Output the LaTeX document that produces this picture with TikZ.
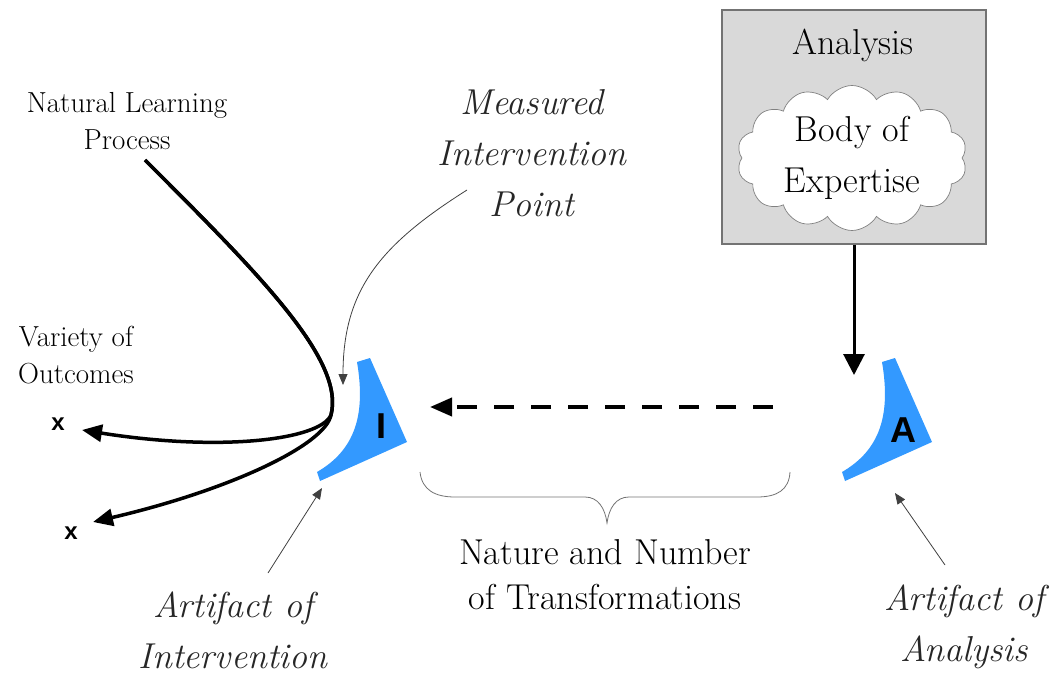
\documentclass[tikz,border=0pt]{standalone}
\usepackage{fontspec}
\setmainfont{Latin Modern Roman}
\newfontfamily\lmroman{Latin Modern Roman}
\newfontfamily\labelsans{Liberation Sans}
\usetikzlibrary{arrows.meta,shapes.symbols}
\definecolor{artblue}{RGB}{51,153,255}
\definecolor{boxgray}{RGB}{217,217,217}

\begin{document}
\begin{tikzpicture}[x=1pt,y=-1pt,
  plain/.style={font=\lmroman\fontsize{36}{45}\selectfont, align=center, inner sep=0pt},
  cloudtext/.style={font=\lmroman\fontsize{36}{51}\selectfont, align=center, inner sep=0pt},
  small/.style={font=\lmroman\fontsize{29}{37}\selectfont, align=center, inner sep=0pt},
  note/.style={font=\lmroman\itshape\fontsize{36}{51}\selectfont, align=center, inner sep=0pt, text=black!85},
  letter/.style={font=\labelsans\bfseries\fontsize{36}{36}\selectfont, inner sep=0pt},
  xmark/.style={font=\labelsans\bfseries\fontsize{24}{24}\selectfont, inner sep=0pt},
  flow/.style={line width=3.5pt, -{Triangle[length=20pt,width=17pt]}},
  pointer/.style={line width=0.8pt, draw=black!75, -{Triangle[length=11pt,width=9pt]}},
  bracestroke/.style={line width=0.8pt, draw=black!55},
  artifactshape/.pic={
    \fill[artblue] (357,362) -- (370,358) -- (407,442) -- (320,481) -- (317,472)
      .. controls (355,450) and (366,415) .. (357,362) -- cycle;
  },
  ]
\useasboundingbox (0,0) rectangle (1063,677);

% analysis box with its cloud
\node[draw=black!55, fill=boxgray, line width=1.5pt, minimum width=264pt,
      minimum height=234pt, inner sep=0pt] (abox) at (854,127) {};
\node[plain] (atitle) at (853,45) {Analysis};
\node[cloud, cloud puffs=14, cloud puff arc=120, aspect=1.6, draw=black!50,
      fill=white, line width=0.7pt, minimum width=230pt, minimum height=145pt,
      cloudtext] (boe) at (852,158) {Body of\\Expertise};

% the two artifacts
\pic at (0,0) {artifactshape};
\pic at (525,0) {artifactshape};
\node[letter] (artI) at (381,426) {I};
\node[letter] (artA) at (903,430) {A};

% labels
\node[small] (nlp) at (127,121) {Natural Learning\\Process};
\node[small] (vo) at (76,355) {Variety of\\Outcomes};
\node[note] (mip) at (532,153) {Measured\\Intervention\\Point};
\node[note] (aoi) at (233,630) {Artifact of\\Intervention};
\node[note] (aoa) at (964,627) {Artifact of\\Analysis};
\node[plain] (nnt) at (605,575) {Nature and Number\\of Transformations};
\node[xmark] (x1) at (58,424) {x};
\node[xmark] (x2) at (71,533) {x};

% connector end points
\coordinate (nlstart) at (145,160);
\coordinate (bend) at (331,415);
\coordinate (out1) at (82,430);
\coordinate (out2) at (93,522);
\coordinate (Atop) at (854,375);
\coordinate (dstart) at (773,407);
\coordinate (dend) at (430,407);
\coordinate (mipfoot) at (467,190);
\coordinate (mipto) at (343,385);
\coordinate (aoifoot) at (268,573);
\coordinate (aoito) at (322,488);
\coordinate (aoafoot) at (945,565);
\coordinate (aoato) at (895,493);

% natural learning process and its outcomes
\draw[flow] (nlstart) .. controls (260,275) and (345,360) .. (bend)
  .. controls (320,440) and (220,452) .. (out1);
\draw[flow] (nlstart) .. controls (260,275) and (345,360) .. (bend)
  .. controls (325,445) and (230,490) .. (out2);

% expertise feeding the artifact of analysis
\draw[flow, line width=3pt, -{Triangle[length=21pt,width=21pt]}] (abox.south) -- (Atop);

% transformation from analysis to intervention
\draw[line width=4pt, dash pattern=on 20pt off 17pt,
      -{Triangle[length=22pt,width=18pt]}] (dstart) -- (dend);

% brace under the transformation
\draw[bracestroke] (420,472) .. controls (422,490) and (435,497) .. (455,497)
  -- (585,497) .. controls (598,497) and (605,508) .. (607,523)
  .. controls (609,508) and (616,497) .. (629,497)
  -- (757,497) .. controls (777,497) and (789,490) .. (790,472);

% pointer lines from the labels
\draw[pointer] (mipfoot) .. controls (380,245) and (343,290) .. (mipto);
\draw[pointer] (aoifoot) -- (aoito);
\draw[pointer] (aoafoot) -- (aoato);
\end{tikzpicture}
\end{document}
